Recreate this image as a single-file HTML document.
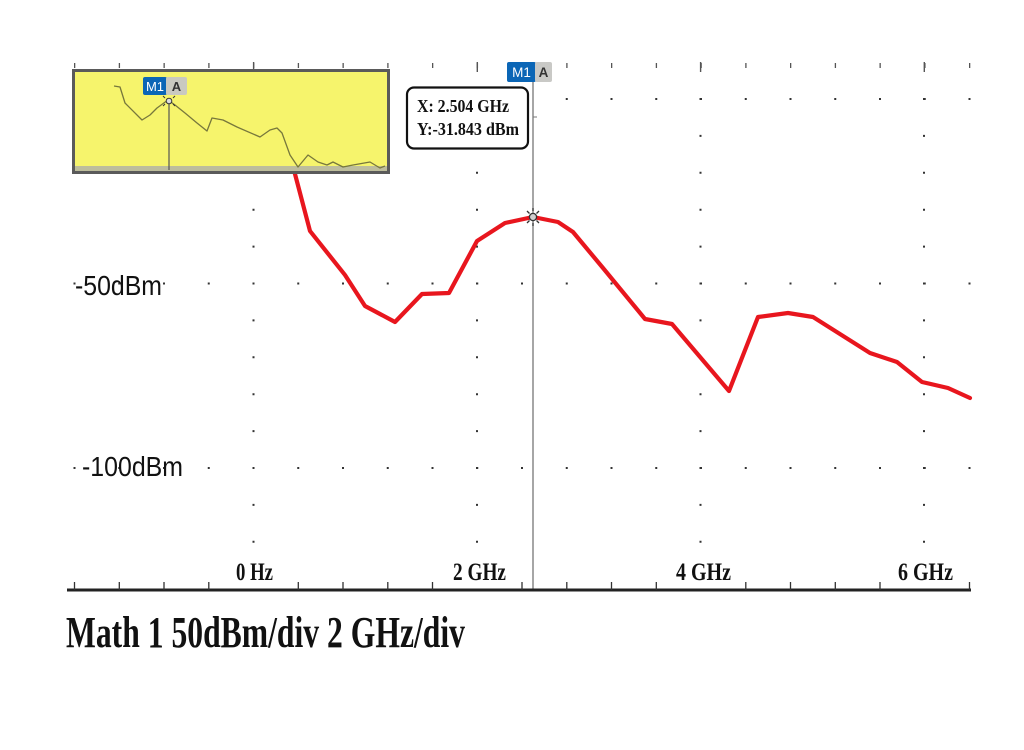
<!DOCTYPE html>
<html>
<head>
<meta charset="utf-8">
<style>
  html, body { margin:0; padding:0; background:#fff; }
  svg { display:block; }
</style>
</head>
<body>
<svg width="1024" height="750" viewBox="0 0 1024 750" xmlns="http://www.w3.org/2000/svg">
  <rect x="0" y="0" width="1024" height="750" fill="#ffffff"/>

  <!-- top ticks -->
  <line x1="74" y1="65.5" x2="972" y2="65.5" stroke="#555" stroke-width="5" stroke-dasharray="1.3 43.45"/>
  <g stroke="#555" stroke-width="1.4">
    <line x1="253.6" y1="62" x2="253.6" y2="72"/>
    <line x1="477.3" y1="62" x2="477.3" y2="72"/>
    <line x1="700.6" y1="62" x2="700.6" y2="72"/>
    <line x1="924.3" y1="62" x2="924.3" y2="72"/>
  </g>

  <!-- dotted grid rows -->
  <g stroke="#333" stroke-width="2">
    <line x1="73.5" y1="99" x2="972" y2="99" stroke-dasharray="2 42.75"/>
    <line x1="73.5" y1="283.5" x2="972" y2="283.5" stroke-dasharray="2 42.75"/>
    <line x1="73.5" y1="468" x2="972" y2="468" stroke-dasharray="2 42.75"/>
  </g>
  <!-- dotted grid columns -->
  <g stroke="#333" stroke-width="2">
    <line x1="253.5" y1="98" x2="253.5" y2="546" stroke-dasharray="2 34.9"/>
    <line x1="477" y1="98" x2="477" y2="546" stroke-dasharray="2 34.9"/>
    <line x1="700.5" y1="98" x2="700.5" y2="546" stroke-dasharray="2 34.9"/>
    <line x1="924" y1="98" x2="924" y2="546" stroke-dasharray="2 34.9"/>
  </g>

  <!-- y labels -->
  <text x="75" y="295" font-family="Liberation Sans, Arial, sans-serif" font-size="28" textLength="87" lengthAdjust="spacingAndGlyphs" fill="#111">-50dBm</text>
  <text x="82" y="476" font-family="Liberation Sans, Arial, sans-serif" font-size="28" textLength="101" lengthAdjust="spacingAndGlyphs" fill="#111">-100dBm</text>

  <!-- marker line -->
  <line x1="533" y1="80" x2="533" y2="589" stroke="#777" stroke-width="1.3"/>
  <line x1="533" y1="117" x2="537" y2="117" stroke="#777" stroke-width="1"/>

  <!-- red trace -->
  <polyline fill="none" stroke="#e8161e" stroke-width="4.2" stroke-linejoin="round" stroke-linecap="round"
    points="291,160 295,174 310,231 345,275 365,306 395,322 422,294 449,293 477,241 505,223 533,217 558,222 573,232 603,268 645,319 672,324 729,391 758,317 788,313 813,317 870,353 897,362 922,382 948,388 970,398"/>

  <!-- marker symbol -->
  <g stroke="#333" stroke-width="1.3">
    <line x1="527" y1="211" x2="529.5" y2="213.5"/>
    <line x1="539" y1="211" x2="536.5" y2="213.5"/>
    <line x1="527" y1="223" x2="529.5" y2="220.5"/>
    <line x1="539" y1="223" x2="536.5" y2="220.5"/>
    <line x1="533" y1="208" x2="533" y2="211"/>
    <line x1="533" y1="223" x2="533" y2="226"/>
  </g>
  <circle cx="533" cy="217" r="3.6" fill="#cfcfcf" stroke="#333" stroke-width="1.3"/>

  <!-- M1 A label (main) -->
  <rect x="507" y="62" width="29" height="20" rx="2" fill="#0b66b6"/>
  <rect x="535" y="62" width="17" height="20" rx="2" fill="#c9c9c6"/>
  <text x="521.5" y="77" text-anchor="middle" font-family="Liberation Sans, Arial, sans-serif" font-size="13.5" fill="#fff">M1</text>
  <text x="543.5" y="77" text-anchor="middle" font-family="Liberation Sans, Arial, sans-serif" font-size="13.5" font-weight="bold" fill="#333">A</text>

  <!-- readout box -->
  <rect x="407" y="87.5" width="121" height="61" rx="7" fill="#fff" stroke="#111" stroke-width="2.2"/>
  <text x="417" y="112" font-family="Liberation Serif, Times New Roman, serif" font-weight="bold" font-size="18" textLength="92" lengthAdjust="spacingAndGlyphs" fill="#111">X: 2.504 GHz</text>
  <text x="417" y="135" font-family="Liberation Serif, Times New Roman, serif" font-weight="bold" font-size="18" textLength="102" lengthAdjust="spacingAndGlyphs" fill="#111">Y:-31.843 dBm</text>

  <!-- inset -->
  <rect x="73.5" y="70.5" width="315" height="102" fill="#f6f46c" stroke="#5a5a5a" stroke-width="3"/>
  <rect x="75" y="166" width="312" height="5" fill="#bdbd9c"/>
  <polyline fill="none" stroke="#77773c" stroke-width="1.3" stroke-linejoin="round"
    points="114,86 120,87 125,103 142,120 150,115 157,108 168,100 175,105 185,113 197,123 207,131 212,118 223,120 237,127 260,137 270,130 277,128 282,133 290,155 298,167 308,155 318,162 327,165 333,162 343,167 353,165 370,162 380,168 385,166"/>
  <line x1="169" y1="102" x2="169" y2="170" stroke="#555" stroke-width="1.2"/>
  <g stroke="#333" stroke-width="1">
    <line x1="163" y1="96" x2="165" y2="98"/>
    <line x1="175" y1="96" x2="173" y2="98"/>
    <line x1="163" y1="106" x2="165" y2="104"/>
    <line x1="175" y1="106" x2="173" y2="104"/>
  </g>
  <circle cx="169" cy="101" r="2.8" fill="#ddd" stroke="#333" stroke-width="1"/>
  <rect x="143" y="77" width="24" height="18" rx="2" fill="#0b66b6"/>
  <rect x="166" y="77" width="21" height="18" rx="2" fill="#c9c9c0"/>
  <text x="155" y="91" text-anchor="middle" font-family="Liberation Sans, Arial, sans-serif" font-size="13" fill="#fff">M1</text>
  <text x="176.5" y="91" text-anchor="middle" font-family="Liberation Sans, Arial, sans-serif" font-size="13" font-weight="bold" fill="#333">A</text>

  <!-- x axis -->
  <line x1="67" y1="590" x2="971" y2="590" stroke="#222" stroke-width="3"/>
  <path fill="none" stroke="#333" stroke-width="1.3"
    d="M74.5,582V590 M119.3,582V590 M164,582V590 M208.8,582V590 M298.3,582V590 M343,582V590 M387.8,582V590 M432.5,582V590 M522,582V590 M566.8,582V590 M611.5,582V590 M656.3,582V590 M745.8,582V590 M790.5,582V590 M835.3,582V590 M880,582V590 M969.5,582V590"/>

  <!-- x labels -->
  <g font-family="Liberation Serif, Times New Roman, serif" font-weight="bold" font-size="25" fill="#111">
    <text x="236" y="580" textLength="37" lengthAdjust="spacingAndGlyphs">0 Hz</text>
    <text x="453" y="580" textLength="53" lengthAdjust="spacingAndGlyphs">2 GHz</text>
    <text x="676" y="580" textLength="55" lengthAdjust="spacingAndGlyphs">4 GHz</text>
    <text x="898" y="580" textLength="55" lengthAdjust="spacingAndGlyphs">6 GHz</text>
  </g>

  <!-- bottom caption -->
  <text x="66" y="647" font-family="Liberation Serif, Times New Roman, serif" font-weight="bold" font-size="44" textLength="399" lengthAdjust="spacingAndGlyphs" fill="#111">Math 1  50dBm/div 2 GHz/div</text>
</svg>
</body>
</html>
